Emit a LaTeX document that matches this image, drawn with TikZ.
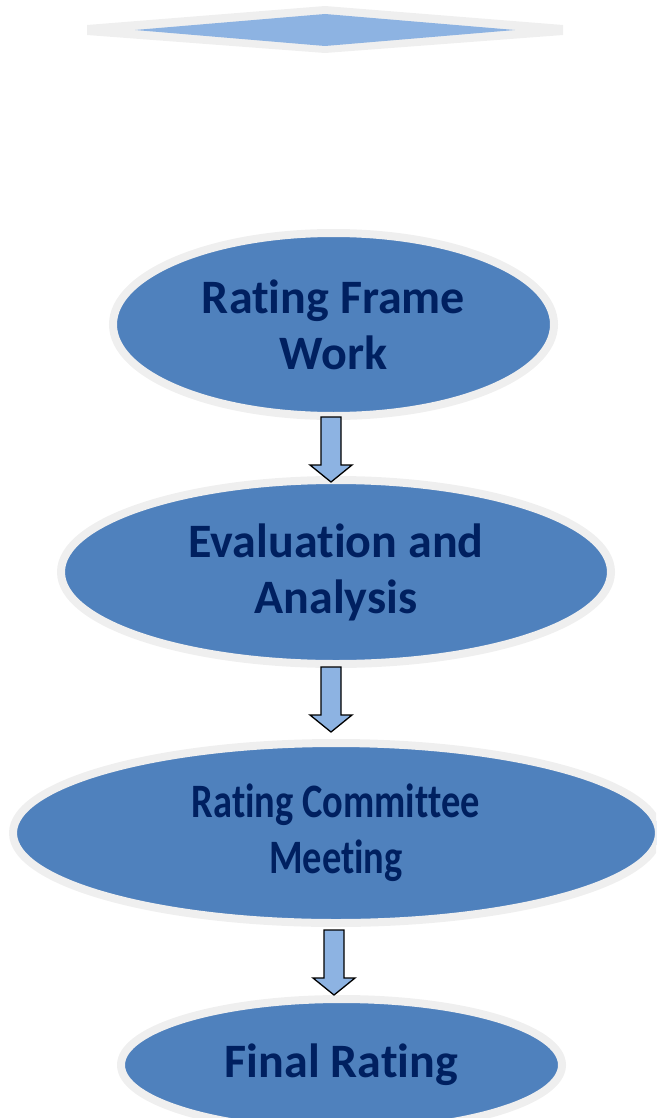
\documentclass[tikz,border=0pt]{standalone}
\usepackage{fontspec}
\setmainfont[Ligatures={NoCommon,NoRare,NoContextual},Contextuals=NoAlternate]{Carlito}
\newfontfamily\condfont[FakeStretch=0.80,Ligatures={NoCommon,NoRare,NoContextual},Contextuals=NoAlternate]{Carlito}
\newcommand\ligbrk{\kern0pt}
\usetikzlibrary{shapes.geometric,calc}
\definecolor{ellblue}{HTML}{4F81BD}
\definecolor{lightblue}{HTML}{8DB3E2}
\definecolor{ringgray}{HTML}{EFEFEF}
\definecolor{textnavy}{RGB}{0,32,96}
\tikzset{
  x=1pt, y=-1pt,
  stage/.style={ellipse, inner sep=0pt, fill=ellblue, draw=ringgray, line width=8pt,
    text=textnavy, font=\bfseries\fontsize{48}{56}\selectfont, align=center},
  blockarr/.pic={
    \draw[fill=lightblue, draw=black, line width=1.3pt, line join=miter]
      (-10,0) -- (10,0) -- (10,48) -- (21,48) -- (0,65) -- (-21,48) -- (-10,48) -- cycle;
  }
}
\begin{document}
\begin{tikzpicture}
\useasboundingbox (0,0) rectangle (656,1118);
\clip (0,0) rectangle (656,1118);
% top diamond
\fill[ringgray] (87,25) -- (325,6) -- (563,25) -- (563,35) -- (325,53) -- (87,35) -- cycle;
\fill[lightblue] (135,30) -- (325,14) -- (515,30) -- (325,46) -- cycle;
% stages
\node[stage, minimum width=441pt, minimum height=183pt] (e1) at (333.5,324.5) {Rat\ligbrk ing Frame\\Work};
\node[stage, minimum width=550pt, minimum height=184pt] (e2) at (336,572) {Evaluat\ligbrk ion and\\Analysis};
\node[stage, minimum width=646pt, minimum height=180pt, font=\condfont\bfseries\fontsize{48}{56}\selectfont] (e3) at (336,833) {Rat\ligbrk ing Commit\ligbrk tee\\Meet\ligbrk ing};
\node[stage, minimum width=441pt, minimum height=132pt] (e4) at (341.5,1065) {Final Rat\ligbrk ing};
% block arrows
\coordinate (a1) at (331,417);
\coordinate (a2) at (331,667);
\coordinate (a3) at (334,930);
\pic at (a1) {blockarr};
\pic at (a2) {blockarr};
\pic at (a3) {blockarr};
\end{tikzpicture}
\end{document}
